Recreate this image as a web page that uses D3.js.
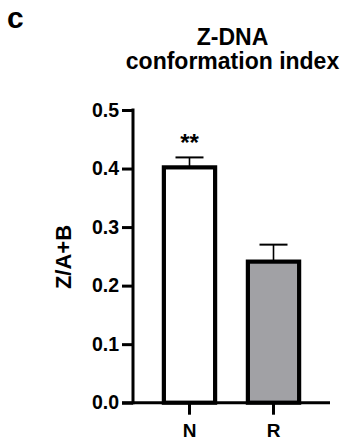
<!DOCTYPE html>
<html><head><meta charset="utf-8">
<script src="https://cdn.jsdelivr.net/npm/d3@7"></script>
<style>html,body{margin:0;padding:0;background:#fff;}svg{display:block;}</style>
</head><body>
<script>
const categories = ["N", "R"];
const means = [0.402, 0.241];
const errors = [0.017, 0.029];
const fills = ["#ffffff", "#a1a1a5"];
const yTicks = [0, 0.1, 0.2, 0.3, 0.4, 0.5];
const significance = ["**", ""];
const titleLines = ["Z-DNA", "conformation index"];
const yLabel = "Z/A+B";
const panelLabel = "c";

const W = 345, H = 445;
const font = "'Liberation Sans', Arial, Helvetica, sans-serif";
const svg = d3.select("body").append("svg").attr("width", W).attr("height", H);

const x0 = 133, x1 = 330, yTop = 110, yBot = 402.7;
const x = d3.scaleBand().domain(categories).range([x0, x1]).paddingInner(0.39).paddingOuter(0.3675);
const y = d3.scaleLinear().domain([0, 0.5]).range([yBot, yTop]);

svg.append("text").attr("x", 7).attr("y", 27.5).attr("font-family", font).attr("font-weight", "bold")
  .attr("font-size", 30).text(panelLabel);

svg.append("g").selectAll("text").data(titleLines).join("text")
  .attr("x", (x0 + x1) / 2 + 1).attr("y", (d, i) => 45 + i * 23.5)
  .attr("text-anchor", "middle").attr("font-family", font).attr("font-weight", "bold")
  .attr("font-size", 23).text(d => d);

// error bars
const eg = svg.append("g");
categories.forEach((c, i) => {
  const cx = x(c) + x.bandwidth() / 2;
  eg.append("line").attr("x1", cx).attr("x2", cx).attr("y1", y(means[i])).attr("y2", y(means[i] + errors[i]))
    .attr("stroke", "#000").attr("stroke-width", 1.6);
  eg.append("line").attr("x1", cx - 14).attr("x2", cx + 14).attr("y1", y(means[i] + errors[i])).attr("y2", y(means[i] + errors[i]))
    .attr("stroke", "#000").attr("stroke-width", 2);
});

// bars
svg.append("g").selectAll("rect").data(categories).join("rect")
  .attr("x", d => x(d)).attr("width", x.bandwidth())
  .attr("y", (d, i) => y(means[i])).attr("height", (d, i) => yBot - y(means[i]))
  .attr("fill", (d, i) => fills[i]).attr("stroke", "#000").attr("stroke-width", 4.2);

// significance
svg.append("g").selectAll("text").data(categories).join("text")
  .attr("x", d => x(d) + x.bandwidth() / 2).attr("y", (d, i) => y(means[i] + errors[i]) - 6)
  .attr("text-anchor", "middle").attr("font-family", font).attr("font-weight", "bold")
  .attr("font-size", 24).text((d, i) => significance[i]);

// y axis
const yAxis = svg.append("g").attr("transform", `translate(${x0},0)`)
  .call(d3.axisLeft(y).tickValues(yTicks).tickFormat(d3.format(".1f")).tickSize(11).tickPadding(3));
yAxis.select(".domain").attr("d", `M0,${yTop}V${yBot}`).attr("stroke-width", 3).attr("stroke-linecap", "square");
yAxis.selectAll(".tick line").attr("stroke-width", 3);
yAxis.selectAll(".tick text").attr("font-family", font).attr("font-weight", "bold").attr("font-size", 19.5).attr("fill", "#000");

// x axis
const xAxis = svg.append("g").attr("transform", `translate(0,${yBot})`)
  .call(d3.axisBottom(x).tickSize(12).tickPadding(9));
xAxis.select(".domain").attr("d", `M${x0 - 11},0H${x1}`).attr("stroke-width", 3);
xAxis.selectAll(".tick line").attr("stroke-width", 3);
xAxis.selectAll(".tick text").attr("font-family", font).attr("font-weight", "bold").attr("font-size", 19).attr("fill", "#000");

svg.append("text").attr("transform", `translate(71,257) rotate(-90)`)
  .attr("text-anchor", "middle").attr("font-family", font).attr("font-weight", "bold")
  .attr("font-size", 22).text(yLabel);
</script>
</body></html>
